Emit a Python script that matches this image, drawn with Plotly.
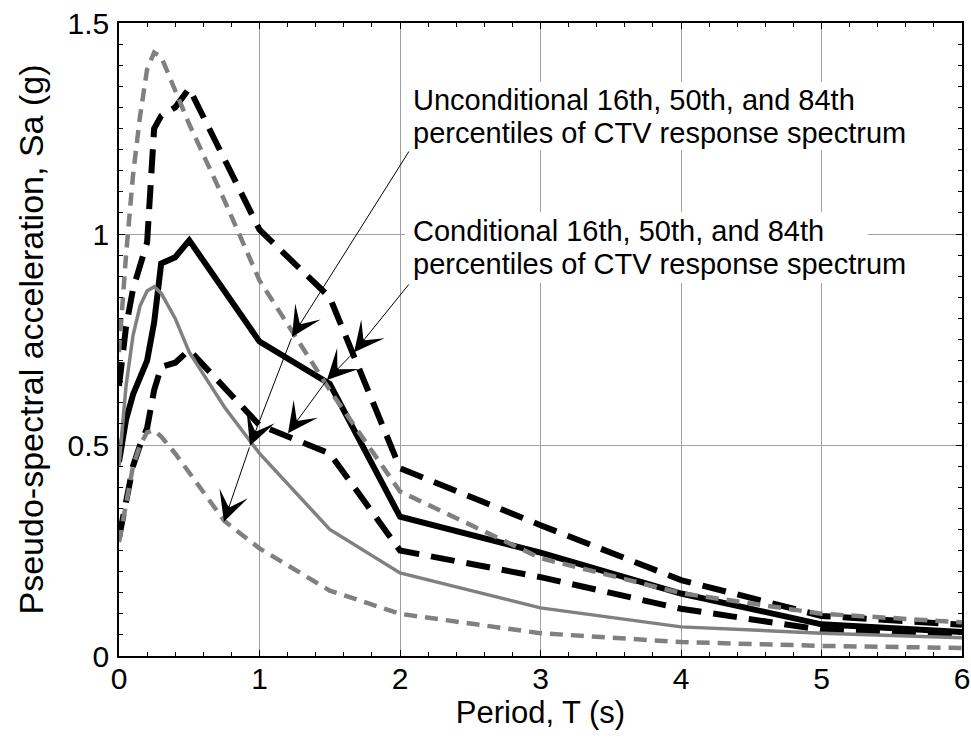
import plotly.graph_objects as go

# ---------------- data ----------------
# Conditional percentiles (black lines)
T_cond = [0, 0.05, 0.1, 0.15, 0.2, 0.25, 0.3, 0.4, 0.5, 1.0, 1.5, 2, 3, 4, 5, 6]
cond_p16 = [0.28, 0.37, 0.45, 0.50, 0.54, 0.63, 0.685, 0.695, 0.725, 0.547, 0.48, 0.25, 0.187, 0.112, 0.062, 0.05]
cond_p50 = [0.46, 0.56, 0.62, 0.66, 0.70, 0.79, 0.93, 0.945, 0.985, 0.745, 0.645, 0.33, 0.245, 0.148, 0.075, 0.057]
cond_p84 = [0.64, 0.78, 0.87, 0.93, 0.98, 1.25, 1.28, 1.30, 1.345, 1.01, 0.85, 0.445, 0.31, 0.18, 0.095, 0.074]

# Unconditional percentiles (gray lines)
T_unc = [0, 0.05, 0.1, 0.15, 0.2, 0.25, 0.3, 0.4, 0.5, 0.75, 1.0, 1.5, 2, 3, 4, 5, 6]
unc_p16 = [0.27, 0.36, 0.45, 0.50, 0.53, 0.535, 0.52, 0.48, 0.435, 0.32, 0.255, 0.155, 0.10, 0.054, 0.033, 0.024, 0.019]
unc_p50 = [0.45, 0.64, 0.76, 0.83, 0.865, 0.875, 0.86, 0.80, 0.72, 0.59, 0.48, 0.30, 0.197, 0.114, 0.069, 0.054, 0.043]
unc_p84 = [0.72, 0.95, 1.14, 1.28, 1.39, 1.43, 1.42, 1.34, 1.26, 1.08, 0.89, 0.63, 0.39, 0.232, 0.149, 0.10, 0.08]

# Arrow chains (start at text box corner, then each curve in turn)
unc_arrow_T = [2.07, 1.231, 0.932, 0.747]
unc_arrow_Sa = [1.199, 0.756, 0.498, 0.318]
cond_arrow_T = [2.071, 1.673, 1.480, 1.203]
cond_arrow_Sa = [0.884, 0.720, 0.654, 0.528]

unc_text = ["Unconditional 16th, 50th, and 84th", "percentiles of CTV response spectrum"]
cond_text = ["Conditional 16th, 50th, and 84th", "percentiles of CTV response spectrum"]

x_ticks = [0, 1, 2, 3, 4, 5, 6]
y_ticks = [0, 0.5, 1, 1.5]
y_ticklabels = ["0", "0.5", "1", "1.5"]

FONT = "Liberation Sans, Arial, sans-serif"
GRAY = "#808080"

fig = go.Figure()

black_dash = "24px,12px"
gray_dash = "13px,8px"

fig.add_trace(go.Scatter(x=T_cond, y=cond_p84, mode="lines",
                         line=dict(color="black", width=6, dash=black_dash)))
fig.add_trace(go.Scatter(x=T_cond, y=cond_p16, mode="lines",
                         line=dict(color="black", width=6, dash=black_dash)))
fig.add_trace(go.Scatter(x=T_cond, y=cond_p50, mode="lines",
                         line=dict(color="black", width=6)))
fig.add_trace(go.Scatter(x=T_unc, y=unc_p84, mode="lines",
                         line=dict(color=GRAY, width=4.5, dash=gray_dash)))
fig.add_trace(go.Scatter(x=T_unc, y=unc_p16, mode="lines",
                         line=dict(color=GRAY, width=4.5, dash=gray_dash)))
fig.add_trace(go.Scatter(x=T_unc, y=unc_p50, mode="lines",
                         line=dict(color=GRAY, width=3.5)))

annotations = []
text_x = 2.075
for line, yv in zip(unc_text, [1.318, 1.240]):
    annotations.append(dict(x=text_x, y=yv, xref="x", yref="y", text=line, showarrow=False,
                            xanchor="left", yanchor="middle",
                            font=dict(family=FONT, size=29, color="black")))
for line, yv in zip(cond_text, [1.008, 0.930]):
    annotations.append(dict(x=text_x, y=yv, xref="x", yref="y", text=line, showarrow=False,
                            xanchor="left", yanchor="middle",
                            font=dict(family=FONT, size=29, color="black")))

for Ts, Ss in [(unc_arrow_T, unc_arrow_Sa), (cond_arrow_T, cond_arrow_Sa)]:
    for i in range(len(Ts) - 1):
        annotations.append(dict(x=Ts[i + 1], y=Ss[i + 1], ax=Ts[i], ay=Ss[i],
                                xref="x", yref="y", axref="x", ayref="y",
                                text="", showarrow=True, arrowhead=3, arrowsize=5,
                                arrowwidth=1, arrowcolor="black", standoff=0))

# white backgrounds behind the text lines (hide grid lines)
shapes = [
    dict(type="rect", xref="x", yref="y", x0=2.035, x1=5.33, y0=1.279, y1=1.36,
         fillcolor="white", line=dict(width=0), layer="above"),
    dict(type="rect", xref="x", yref="y", x0=2.035, x1=5.66, y0=1.199, y1=1.280,
         fillcolor="white", line=dict(width=0), layer="above"),
    dict(type="rect", xref="x", yref="y", x0=2.035, x1=5.33, y0=0.969, y1=1.052,
         fillcolor="white", line=dict(width=0), layer="above"),
    dict(type="rect", xref="x", yref="y", x0=2.035, x1=5.66, y0=0.884, y1=0.970,
         fillcolor="white", line=dict(width=0), layer="above"),
]

fig.update_layout(
    width=971, height=744,
    margin=dict(l=119, r=9, t=23, b=88),
    paper_bgcolor="white", plot_bgcolor="white",
    showlegend=False,
    font=dict(family=FONT, color="black"),
    annotations=annotations,
    shapes=shapes,
)

fig.update_xaxes(
    range=[0, 6], tickvals=x_ticks, ticktext=[str(t) for t in x_ticks],
    showgrid=True, gridcolor="#a0a0a0", gridwidth=1,
    showline=True, linecolor="black", linewidth=1.5, mirror="allticks",
    ticks="inside", ticklen=6, tickcolor="black", tickwidth=1,
    minor=dict(dtick=0.2, ticks="inside", ticklen=4, tickcolor="black", showgrid=False),
    tickfont=dict(family=FONT, size=30, color="black"),
    title=dict(text="Period, T (s)", font=dict(family=FONT, size=31, color="black"), standoff=3),
    zeroline=False, automargin=False, ticklabelstandoff=-5,
)
fig.update_yaxes(
    range=[0, 1.5], tickvals=y_ticks, ticktext=y_ticklabels,
    showgrid=True, gridcolor="#a0a0a0", gridwidth=1,
    showline=True, linecolor="black", linewidth=1.5, mirror="allticks",
    ticks="inside", ticklen=6, tickcolor="black", tickwidth=1,
    minor=dict(dtick=0.05, ticks="inside", ticklen=4, tickcolor="black", showgrid=False),
    tickfont=dict(family=FONT, size=30, color="black"),
    title=dict(text="Pseudo-spectral acceleration, Sa (g)", font=dict(family=FONT, size=34, color="black"), standoff=14),
    zeroline=False, automargin=False, ticklabelstandoff=2,
)

fig.write_html("out.html")
